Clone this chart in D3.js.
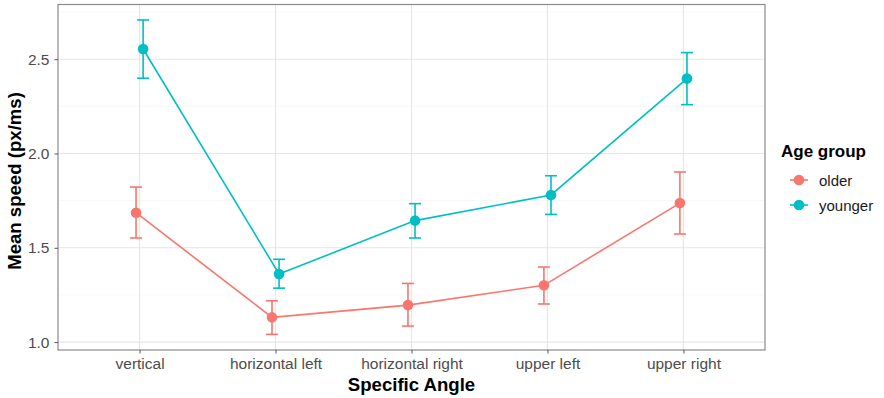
<!DOCTYPE html>
<html><head><meta charset="utf-8">
<script src="https://cdn.jsdelivr.net/npm/d3@7"></script>
<style>body{margin:0;background:#fff}svg{display:block}text{font-family:"Liberation Sans",Arial,sans-serif}</style>
</head><body><svg id="c" width="884" height="398"></svg>
<script>
const categories = ["vertical","horizontal left","horizontal right","upper left","upper right"];
const groups = ["older","younger"];
const colors = ["#F8766D","#00BFC4"];
const olderMean  = [1.686, 1.131, 1.196, 1.301, 1.737];
const olderLow   = [1.552, 1.041, 1.085, 1.202, 1.573];
const olderHigh  = [1.822, 1.219, 1.311, 1.398, 1.902];
const youngerMean = [2.554, 1.361, 1.644, 1.780, 2.397];
const youngerLow  = [2.399, 1.286, 1.552, 1.677, 2.259];
const youngerHigh = [2.708, 1.439, 1.734, 1.882, 2.535];
const yTicks = [1.0, 1.5, 2.0, 2.5];
const yMinor = [1.25, 1.75, 2.25, 2.75];

const series = [
  {name: groups[0], color: colors[0], mean: olderMean, low: olderLow, high: olderHigh, dodge: -1},
  {name: groups[1], color: colors[1], mean: youngerMean, low: youngerLow, high: youngerHigh, dodge: 1}
];

const svg = d3.select("#c");
const L = 58, R = 765, T = 4.5, B = 350;
const x = d3.scaleLinear().domain([0.4, 5.6]).range([L, R]);
const y = d3.scaleLinear().domain([0.958, 2.79]).range([B, T]);
const dod = 0.026;

// grid
const g = svg.append("g");
g.selectAll(".ym").data(yMinor).join("line")
  .attr("x1", L).attr("x2", R).attr("y1", d=>y(d)).attr("y2", d=>y(d))
  .attr("stroke", "#f2f2f2").attr("stroke-width", 0.6);
g.selectAll(".yM").data(yTicks).join("line")
  .attr("x1", L).attr("x2", R).attr("y1", d=>y(d)).attr("y2", d=>y(d))
  .attr("stroke", "#e6e6e6").attr("stroke-width", 1.1);
g.selectAll(".xM").data(categories).join("line")
  .attr("x1", (d,i)=>x(i+1)).attr("x2", (d,i)=>x(i+1)).attr("y1", T).attr("y2", B)
  .attr("stroke", "#e6e6e6").attr("stroke-width", 1.1);

// series
series.forEach(s => {
  const xp = i => x(i + 1 + s.dodge * dod);
  const sg = svg.append("g");
  sg.append("path")
    .datum(s.mean)
    .attr("d", d3.line().x((d,i)=>xp(i)).y(d=>y(d)))
    .attr("fill", "none").attr("stroke", s.color).attr("stroke-width", 1.6);
  s.mean.forEach((m, i) => {
    const cx = xp(i), w = 6;
    sg.append("line").attr("x1", cx).attr("x2", cx).attr("y1", y(s.low[i])).attr("y2", y(s.high[i]))
      .attr("stroke", s.color).attr("stroke-width", 1.6);
    sg.append("line").attr("x1", cx-w).attr("x2", cx+w).attr("y1", y(s.low[i])).attr("y2", y(s.low[i]))
      .attr("stroke", s.color).attr("stroke-width", 1.6);
    sg.append("line").attr("x1", cx-w).attr("x2", cx+w).attr("y1", y(s.high[i])).attr("y2", y(s.high[i]))
      .attr("stroke", s.color).attr("stroke-width", 1.6);
    sg.append("circle").attr("cx", cx).attr("cy", y(m)).attr("r", 5.3).attr("fill", s.color);
  });
});

// border
svg.append("rect").attr("x", L).attr("y", T).attr("width", R-L).attr("height", B-T)
  .attr("fill", "none").attr("stroke", "#8a8a8a").attr("stroke-width", 1.2);

// axes
const yAxis = d3.axisLeft(y).tickValues(yTicks).tickFormat(d3.format(".1f")).tickSize(3.5).tickPadding(5);
const ya = svg.append("g").attr("transform", `translate(${L},0)`).call(yAxis);
ya.select(".domain").remove();
ya.selectAll("line").attr("stroke", "#555");
ya.selectAll("text").attr("fill", "#4d4d4d").attr("font-size", 15.5);

const xb = d3.scaleOrdinal().domain(categories).range(categories.map((d,i)=>x(i+1)));
const xAxis = d3.axisBottom(xb).tickSize(3.5).tickPadding(4);
const xa = svg.append("g").attr("transform", `translate(0,${B})`).call(xAxis);
xa.select(".domain").remove();
xa.selectAll("line").attr("stroke", "#555");
xa.selectAll("text").attr("fill", "#4d4d4d").attr("font-size", 15.5);

svg.append("text").attr("x", (L+R)/2).attr("y", 391).attr("text-anchor", "middle")
  .attr("font-size", 18.6).attr("font-weight", "bold").attr("fill", "#000").text("Specific Angle");
svg.append("text").attr("transform", `translate(20.5,181) rotate(-90)`).attr("text-anchor", "middle")
  .attr("font-size", 18.6).attr("font-weight", "bold").attr("fill", "#000").text("Mean speed (px/ms)");

// legend
const lg = svg.append("g");
lg.append("text").attr("x", 781).attr("y", 157).attr("font-size", 17).attr("font-weight", "bold").text("Age group");
series.forEach((s, i) => {
  const ly = 180 + i * 25;
  lg.append("line").attr("x1", 790).attr("x2", 808).attr("y1", ly).attr("y2", ly).attr("stroke", s.color).attr("stroke-width", 1.6);
  lg.append("circle").attr("cx", 799).attr("cy", ly).attr("r", 5.3).attr("fill", s.color);
  lg.append("text").attr("x", 819).attr("y", ly + 5.5).attr("font-size", 15).attr("fill", "#1a1a1a").text(s.name);
});
</script></body></html>
